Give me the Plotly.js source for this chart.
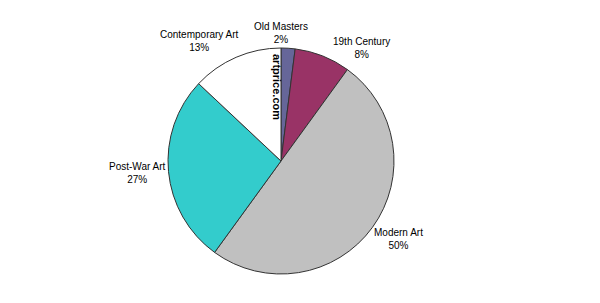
<!DOCTYPE html>
<html>
<head>
<meta charset="utf-8">
<script src="https://cdn.plot.ly/plotly-3.0.1.min.js"></script>
<style>html,body{margin:0;padding:0;background:#fff;}#chart{width:600px;height:303px;}</style>
</head>
<body>
<div id="chart"></div>
<script>
var categories = ["Old Masters", "19th Century", "Modern Art", "Post-War Art", "Contemporary Art"];
var shares = [2, 8, 50, 27, 13];
var sliceColors = ["#666699", "#993366", "#C0C0C0", "#33CCCC", "#FFFFFF"];

// label anchor positions (pixels in the 600x303 frame)
var labelPos = [[281, 33], [361, 48], [398, 239], [137, 173], [199, 41]];

var total = shares.reduce(function (a, b) { return a + b; }, 0);
var annotations = categories.map(function (c, i) {
  return {
    text: c + "<br>" + Math.round(shares[i] / total * 100) + "%",
    x: labelPos[i][0] / 600, y: 1 - labelPos[i][1] / 303,
    xref: "paper", yref: "paper", showarrow: false,
    xanchor: "center", yanchor: "middle",
    font: {family: "Liberation Sans, Arial, sans-serif", size: 10, color: "#000"}
  };
});
annotations.push({
  text: "<b>artprice.com</b>", textangle: 90,
  x: 277 / 600, y: 1 - 87 / 303, xref: "paper", yref: "paper", showarrow: false,
  xanchor: "center", yanchor: "middle",
  font: {family: "Liberation Sans, Arial, sans-serif", size: 11, color: "#000"}
});

Plotly.newPlot("chart", [{
  type: "pie",
  labels: categories,
  values: shares,
  sort: false,
  direction: "clockwise",
  rotation: 0,
  marker: {colors: sliceColors, line: {color: "#333333", width: 1}},
  textinfo: "none",
  hoverinfo: "none",
  domain: {x: [168 / 600, 394 / 600], y: [1 - 274 / 303, 1 - 48 / 303]}
}], {
  width: 600, height: 303,
  margin: {l: 0, r: 0, t: 0, b: 0},
  showlegend: false,
  paper_bgcolor: "#fff",
  annotations: annotations
}, {staticPlot: true});
</script>
</body>
</html>
